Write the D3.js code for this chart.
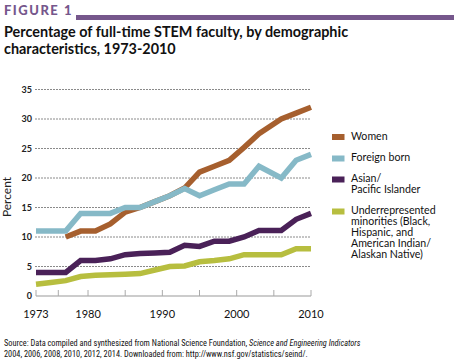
<!DOCTYPE html>
<html lang="en">
<head>
<meta charset="utf-8">
<title>Percentage of full-time STEM faculty</title>
<script src="https://d3js.org/d3.v7.min.js"></script>
<style>
  body { margin: 0; background: #fff; }
  text { font-family: Lato, "Open Sans", sans-serif; }
</style>
</head>
<body>
<script>
// survey years and values (percent)
var years = [1973, 1975, 1977, 1979, 1981, 1983, 1985, 1987, 1989, 1991, 1993, 1995, 1997, 1999, 2001, 2003, 2006, 2008, 2010]
var women    = [null, null, 10, 11, 11, 12.2, 14.2, 15, 16, 17, 18.3, 21, 22, 23, 25.2, 27.5, 30, 31, 32]
var foreign  = [11, 11, 11, 14, 14, 14, 15, 15, 16, 17, 18.2, 17, 18, 19, 19, 22, 20, 23, 24]
var asian    = [4, 4, 4, 6, 6, 6.3, 7, 7.2, 7.3, 7.4, 8.6, 8.4, 9.3, 9.3, 10, 11.1, 11.1, 13, 14]
var urm      = [2, 2.3, 2.6, 3.3, 3.5, 3.6, 3.7, 3.8, 4.4, 5, 5.1, 5.8, 6, 6.3, 7, 7, 7, 8, 8]

var seriesNames = ["Women", "Foreign born", "Asian/\nPacific Islander", "Underrepresented\nminorities (Black,\nHispanic, and\nAmerican Indian/\nAlaskan Native)"]
var seriesColors = ["#a65f2e", "#86b9c7", "#4a2158", "#b7be3f"]
var seriesData = [women, foreign, asian, urm]

var yTicks = [0, 5, 10, 15, 20, 25, 30, 35]
var xTicks = [1973, 1976, 1980, 1985, 1990, 1995, 2000, 2005, 2010]
var xLabels = [1973, 1980, 1990, 2000, 2010]

var width = 454, height = 363

var svg = d3.select("body").append("svg")
  .attr("width", width)
  .attr("height", height)

// header
svg.append("text")
  .attr("x", 4).attr("y", 15)
  .attr("fill", "#76578c")
  .style("font-weight", "900")
  .style("font-size", "13px")
  .style("letter-spacing", "1.5px")
  .text("FIGURE 1")
svg.append("rect")
  .attr("x", 76).attr("y", 15)
  .attr("width", width - 76).attr("height", 5)
  .attr("fill", "#76578c")

var title = svg.append("text")
  .attr("x", 4).attr("y", 37)
  .style("font-weight", "bold")
  .style("font-size", "14.4px")
  .attr("fill", "#111")
title.append("tspan").text("Percentage of full-time STEM faculty, by demographic")
title.append("tspan").attr("x", 4).attr("dy", 17).text("characteristics, 1973-2010")

var x = d3.scaleLinear().domain([1973, 2010]).range([36, 311])
var y = d3.scaleLinear().domain([0, 35]).range([296, 89.5])

// grid
svg.append("g")
  .selectAll("line")
  .data(yTicks.filter(function(d) { return d > 0 }))
  .enter().append("line")
    .attr("x1", 35).attr("x2", 311)
    .attr("y1", function(d) { return y(d) }).attr("y2", function(d) { return y(d) })
    .attr("stroke", "#8a8a8a")
    .attr("stroke-width", 1)
    .attr("stroke-dasharray", "2,1")

// y labels
svg.append("g")
  .selectAll("text")
  .data(yTicks)
  .enter().append("text")
    .attr("x", 32)
    .attr("y", function(d) { return y(d) + 3 })
    .attr("text-anchor", "end")
    .style("font-size", "9px")
    .style("font-weight", "bold")
    .attr("fill", "#222")
    .text(function(d) { return d })

svg.append("text")
  .attr("transform", "translate(11,197) rotate(-90)")
  .attr("text-anchor", "middle")
  .style("font-size", "12px")
  .attr("fill", "#222")
  .text("Percent")

// x axis
svg.append("line")
  .attr("x1", x(1973)).attr("x2", x(2010))
  .attr("y1", 296).attr("y2", 296)
  .attr("stroke", "#999").attr("stroke-width", 1.2)
svg.append("g")
  .selectAll("line")
  .data(xTicks)
  .enter().append("line")
    .attr("x1", function(d) { return x(d) }).attr("x2", function(d) { return x(d) })
    .attr("y1", 290).attr("y2", 296)
    .attr("stroke", "#aaa").attr("stroke-width", 1)
svg.append("g")
  .selectAll("text")
  .data(xLabels)
  .enter().append("text")
    .attr("x", function(d) { return x(d) })
    .attr("y", 318)
    .attr("text-anchor", "middle")
    .style("font-size", "11px")
    .attr("fill", "#111")
    .text(function(d) { return d })

// lines
var line = d3.line()
  .defined(function(d) { return d[1] != null })
  .x(function(d) { return x(d[0]) })
  .y(function(d) { return y(d[1]) })

seriesData.forEach(function(vals, i) {
  svg.append("path")
    .datum(years.map(function(yr, j) { return [yr, vals[j]] }))
    .attr("d", line)
    .attr("fill", "none")
    .attr("stroke", seriesColors[i])
    .attr("stroke-width", 5.5)
})

// legend
var legendY = [134, 155.5, 176.5, 208.5]
seriesNames.forEach(function(name, i) {
  var g = svg.append("g")
  g.append("rect")
    .attr("x", 332).attr("y", legendY[i])
    .attr("width", 12.5).attr("height", 6)
    .attr("fill", seriesColors[i])
  var t = g.append("text")
    .attr("x", 351).attr("y", legendY[i] + 5.5)
    .style("font-size", "10.6px")
    .attr("fill", "#111")
  name.split("\n").forEach(function(part, k) {
    t.append("tspan").attr("x", 351).attr("dy", k ? 11 : 0).text(part)
  })
})

// source
var src = svg.append("text")
  .attr("x", 4).attr("y", 345.5)
  .style("font-size", "8.3px")
  .style("font-family", "'Liberation Sans Narrow', 'Roboto Condensed', sans-serif")
  .attr("fill", "#111")
src.append("tspan").text("Source: Data compiled and synthesized from National Science Foundation, ")
src.append("tspan").style("font-style", "italic").text("Science and Engineering Indicators")
svg.append("text")
  .attr("x", 4).attr("y", 357)
  .style("font-size", "8.3px")
  .style("font-family", "'Liberation Sans Narrow', 'Roboto Condensed', sans-serif")
  .attr("fill", "#111")
  .text("2004, 2006, 2008, 2010, 2012, 2014. Downloaded from: http://www.nsf.gov/statistics/seind/.")
</script>
</body>
</html>
